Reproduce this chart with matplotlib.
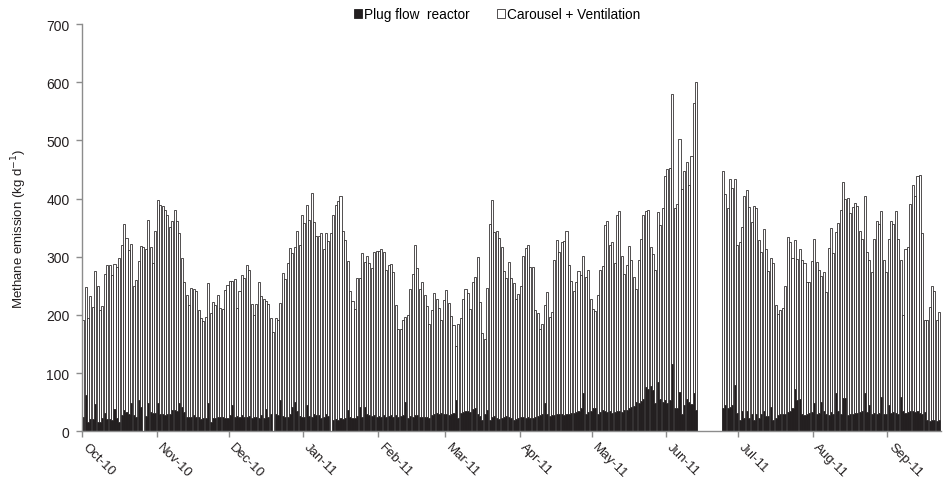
import matplotlib
matplotlib.use("Agg")
import matplotlib.pyplot as plt
import matplotlib.transforms as mtransforms
import numpy as np

plt.rcParams['font.family'] = ['Liberation Sans', 'DejaVu Sans']

# month ticks (day index from 1 Oct 2010)
month_days = [0, 31, 61, 92, 123, 151, 182, 212, 243, 273, 304, 335]
month_labels = ["Oct-10", "Nov-10", "Dec-10", "Jan-11", "Feb-11", "Mar-11",
                "Apr-11", "May-11", "Jun-11", "Jul-11", "Aug-11", "Sep-11"]

# period 1: 1 Oct 2010 - 13 Jun 2011 (day 0..255)
total_1 = [
    192, 248, 195, 233, 214, 276, 249, 209, 215, 270, 285, 285, 268, 287, 282, 297, 321, 356, 332, 311,
    322, 250, 260, 292, 318, 317, 314, 364, 317, 290, 345, 397, 389, 388, 380, 371, 351, 361, 381, 361,
    341, 298, 257, 234, 217, 246, 244, 241, 209, 194, 190, 196, 255, 204, 222, 217, 234,
    212, 210, 242, 251, 259, 258, 261, 212, 241, 268, 264, 285, 278, 218, 199, 219, 257, 233, 228, 224,
    218, 195, 171, 194, 192, 221, 272, 262, 289, 315, 306, 317, 344, 320, 371, 358, 389, 364, 410, 360,
    335, 335, 341, 314, 341, 327, 340, 372, 389, 396, 405, 344, 328, 293, 241, 224, 210, 264, 264,
    307, 291, 301, 290, 281, 308, 310, 310, 314, 309, 277, 285, 287, 273, 217, 176, 176, 192, 196, 200,
    244, 270, 320, 281, 245, 256, 235, 215, 185, 208, 238, 227, 211, 191, 226, 242, 221, 198, 182, 146,
    185, 195, 227, 245, 238, 210, 256, 266, 300, 223, 169, 159, 246, 356, 398, 343, 345, 333, 317, 275,
    264, 291,
    264, 254, 228, 236, 249, 301, 315, 321, 282, 282, 209, 203, 176, 185, 217, 239, 196, 205, 294, 328,
    309, 325, 327, 344, 285, 258, 241, 256, 275, 269, 302, 265, 278, 227, 210, 207, 234, 277, 284, 355,
    361, 321, 325, 289, 371, 379, 301, 270, 286, 318, 294, 266, 245, 294, 330, 371, 379, 381, 316, 305,
    278, 377, 355, 383, 439, 451, 453, 580, 384, 391, 503, 417, 447, 463, 424, 473, 565, 600,
]
plug_1 = [
    25, 62, 16, 21, 21, 46, 15, 15, 22, 32, 21, 21, 19, 38, 22, 16, 27, 36, 33, 30,
    49, 27, 25, 54, 42, 0, 26, 49, 33, 32, 31, 48, 29, 29, 27, 29, 29, 36, 36, 34,
    49, 42, 33, 25, 24, 25, 27, 24, 25, 21, 23, 23, 48, 16, 22, 23, 25,
    25, 25, 23, 22, 28, 45, 24, 26, 25, 27, 24, 25, 26, 23, 25, 24, 22, 27, 23, 38,
    24, 30, 0, 30, 28, 53, 26, 24, 25, 30, 42, 50, 35, 26, 25, 24, 45, 26, 24, 30,
    28, 27, 22, 24, 30, 26, 0, 20, 21, 20, 22, 21, 22, 36, 24, 22, 22, 26, 42,
    25, 42, 30, 27, 26, 27, 25, 26, 25, 27, 24, 26, 28, 25, 27, 24, 26, 28, 50, 23,
    26, 25, 27, 27, 24, 24, 25, 24, 22, 28, 29, 31, 30, 32, 30, 29, 28, 30, 32, 54,
    22, 31, 33, 34, 35, 33, 38, 39, 30, 26, 20, 30, 36, 19, 24, 26, 23, 21, 22, 25,
    26, 25,
    22, 20, 21, 23, 24, 25, 23, 24, 22, 23, 25, 26, 27, 29, 49, 30, 26, 27, 28, 29,
    29, 30, 28, 29, 30, 31, 32, 33, 34, 40, 65, 30, 33, 35, 39, 39, 30, 33, 36, 34,
    33, 34, 32, 33, 34, 35, 33, 36, 37, 40, 42, 44, 50, 48, 52, 55, 76, 72, 78, 70,
    48, 85, 56, 50, 53, 48, 53, 115, 39, 39, 68, 30, 45, 56, 50, 46, 65, 36,
]

# period 2: 24 Jun 2011 - 22 Sep 2011 (day 266..356)
total_2 = [
    448, 408, 384, 434, 418, 433, 321, 325, 351, 405, 415, 385, 360, 388, 384, 329, 309, 347, 314, 275,
    297, 289, 217, 201, 209, 212, 250, 334, 326, 297, 329, 296,
    313, 294, 290, 257, 257, 293, 330, 291, 278, 267, 273, 239, 315, 349, 306, 342, 358, 380, 428, 399,
    401, 376, 385, 393, 387, 344, 330, 404, 309, 295, 274, 331, 361, 356, 379, 294, 274, 331, 361, 356,
    379, 330, 295, 199, 314, 317, 391, 424, 404, 439, 440, 341, 191, 192, 214, 250, 241, 192, 205,
]
plug_2 = [
    39, 45, 40, 42, 45, 79, 32, 19, 35, 22, 35, 22, 30, 20, 30, 22, 30, 35, 26, 26,
    42, 20, 22, 28, 30, 30, 30, 33, 35, 40, 73, 53,
    56, 30, 28, 30, 32, 33, 49, 30, 32, 50, 35, 30, 28, 33, 30, 65, 34, 30, 57, 57,
    28, 29, 30, 31, 32, 33, 34, 65, 33, 45, 30, 31, 30, 32, 58, 30, 30, 45, 31, 33,
    31, 30, 58, 34, 32, 33, 35, 34, 33, 34, 32, 30, 33, 19, 18, 20, 19, 17, 19,
]

day_1 = np.arange(0, len(total_1))
day_2 = np.arange(266, 266 + len(total_2))

days = np.concatenate([day_1, day_2]) + 0.5
total = np.array(total_1 + total_2, dtype=float)
plug = np.array(plug_1 + plug_2, dtype=float)
carousel = total - plug

fig = plt.figure(figsize=(9.44, 4.85), dpi=100)
ax = fig.add_axes([0.0869, 0.109, 0.910, 0.839])

bw = 0.85
ax.bar(days, plug, width=bw, color="#231f20", edgecolor="#231f20", linewidth=0.6,
       label="Plug flow  reactor")
ax.bar(days, carousel, width=bw, bottom=plug, color="white", edgecolor="#231f20",
       linewidth=0.55, label="Carousel + Ventilation")

ax.set_xlim(0, 357.3)
ax.set_ylim(0, 700)
ax.set_yticks(range(0, 701, 100))
ax.set_xticks(month_days)
ax.set_xticklabels(month_labels, rotation=-45, ha="left", va="top", rotation_mode="anchor")

for s in ["top", "right"]:
    ax.spines[s].set_visible(False)
for s in ["left", "bottom"]:
    ax.spines[s].set_color("#8c8c8c")
    ax.spines[s].set_linewidth(1.0)
ax.tick_params(axis="both", direction="out", length=4, color="#8c8c8c", width=1.0,
               labelsize=10, labelcolor="#231f20")
ax.tick_params(axis="y", pad=5)
ax.tick_params(axis="x", pad=3, labelsize=9.5)

# shift the slanted month labels right of their ticks
offset = mtransforms.ScaledTranslation(7 / 100, 0, fig.dpi_scale_trans)
for lab in ax.get_xticklabels():
    lab.set_transform(lab.get_transform() + offset)

ax.set_ylabel("Methane emission (kg d$^{-1}$)", fontsize=9.5, color="#231f20", labelpad=12)

fig.legend(loc="center", bbox_to_anchor=(0.5265, 0.969), ncol=2, frameon=False,
           fontsize=9.8, handlelength=0.62, handleheight=0.62, handletextpad=0.12,
           columnspacing=2.0, borderaxespad=0)

fig.savefig("out.png", dpi=100)
